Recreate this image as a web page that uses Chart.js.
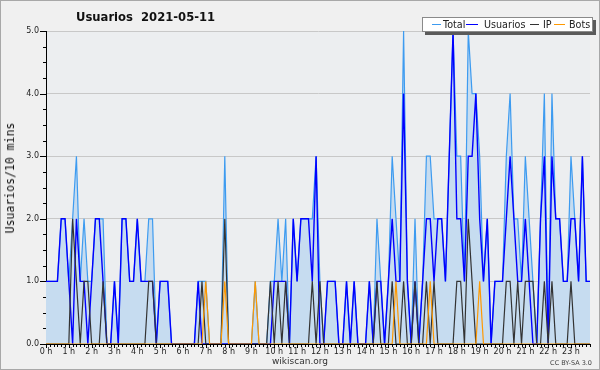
<!DOCTYPE html>
<html>
<head>
<meta charset="utf-8">
<script src="https://cdn.jsdelivr.net/npm/chart.js@4"></script>
<style>
  body { margin: 0; background: #fff; }
  #wrap { position: relative; width: 600px; height: 370px; background: #f0f0f0; font-family: "DejaVu Sans", sans-serif; overflow: hidden; }
  #chart { position: absolute; left: 0; top: 0; }
  #frame { position: absolute; left: 0; top: 0; width: 598px; height: 368px; border: 1px solid #a8a8a8; pointer-events: none; }
  #title { position: absolute; left: 76px; top: 10px; font-weight: bold; font-size: 11.6px; color: #111; white-space: pre; }
  #ytitle { position: absolute; left: 10px; top: 178px; transform: translate(-50%, -50%) rotate(-90deg); font-family: "DejaVu Sans Mono", monospace; font-size: 11.5px; color: #111; white-space: nowrap; }
  #legend { position: absolute; left: 422px; top: 17px; width: 169px; height: 13px; background: #fff; border: 1px solid #8a8a8a; box-shadow: 3px 3px 0 #5a5a5a; }
  .li { position: absolute; top: 0; font-size: 9.6px; line-height: 13px; color: #222; white-space: nowrap; }
  .ln { position: absolute; top: 6px; height: 1px; }
  #foot { position: absolute; left: 0; width: 600px; top: 356px; text-align: center; font-size: 9px; color: #333; }
  #lic { position: absolute; right: 8px; top: 359px; font-size: 6.5px; color: #444; }
</style>
</head>
<body>
<div id="wrap">
  <canvas id="chart" width="600" height="370"></canvas>
  <div id="title">Usuarios  2021-05-11</div>
  <div id="ytitle">Usuarios/10 mins</div>
  <div id="legend">
    <div class="ln" style="left:9px;width:9px;background:#3d9bf0"></div>
    <div class="li" style="left:20px">Total</div>
    <div class="ln" style="left:43px;width:12px;background:#0000ff"></div>
    <div class="li" style="left:61px">Usuarios</div>
    <div class="ln" style="left:107px;width:9px;background:#333"></div>
    <div class="li" style="left:120px">IP</div>
    <div class="ln" style="left:131px;width:11px;background:#ff9900"></div>
    <div class="li" style="left:146px">Bots</div>
  </div>
  <div id="foot">wikiscan.org</div>
  <div id="lic">CC BY-SA 3.0</div>
  <div id="frame"></div>
</div>
<script>
const hourLabels = ["0 h", "1 h", "2 h", "3 h", "4 h", "5 h", "6 h", "7 h", "8 h", "9 h", "10 h", "11 h",
  "12 h", "13 h", "14 h", "15 h", "16 h", "17 h", "18 h", "19 h", "20 h", "21 h", "22 h", "23 h"];

// one value every 10 minutes, 12 per row (2 hours)
const total = [
  1, 1, 1, 1, 2, 2, 1, 2, 3, 1, 2, 1,
  1, 2, 2, 2, 0, 0, 1, 0, 2, 2, 1, 1,
  2, 1, 1, 2, 2, 0, 1, 1, 1, 0, 0, 0,
  0, 0, 0, 0, 1, 1, 1, 0, 0, 0, 0, 3,
  0, 0, 0, 0, 0, 0, 0, 1, 0, 0, 0, 1,
  1, 2, 1, 2, 0, 2, 1, 2, 2, 2, 2, 3,
  1, 0, 1, 1, 1, 0, 0, 1, 0, 1, 0, 0,
  0, 1, 0, 2, 1, 0, 1, 3, 2, 1, 5, 1,
  0, 2, 0, 1, 3, 3, 2, 2, 2, 1, 3, 5,
  3, 3, 1, 5, 4, 4, 3, 1, 2, 0, 1, 1,
  1, 3, 4, 2, 2, 1, 3, 2, 1, 0, 2, 4,
  0, 4, 2, 2, 1, 1, 3, 2, 1, 3, 1, 1
];
const usuarios = [
  1, 1, 1, 1, 2, 2, 1, 0, 2, 1, 1, 0,
  1, 2, 2, 1, 0, 0, 1, 0, 2, 2, 1, 1,
  2, 1, 1, 1, 1, 0, 1, 1, 1, 0, 0, 0,
  0, 0, 0, 0, 1, 0, 0, 0, 0, 0, 0, 0,
  0, 0, 0, 0, 0, 0, 0, 0, 0, 0, 0, 0,
  1, 1, 1, 1, 0, 2, 1, 2, 2, 2, 1, 3,
  0, 0, 1, 1, 1, 0, 0, 1, 0, 1, 0, 0,
  0, 1, 0, 1, 1, 0, 1, 2, 1, 1, 4, 1,
  0, 1, 0, 1, 2, 2, 1, 2, 2, 1, 3, 5,
  2, 2, 1, 3, 3, 4, 2, 1, 2, 0, 1, 1,
  1, 2, 3, 2, 1, 1, 2, 1, 0, 0, 2, 3,
  0, 3, 2, 2, 1, 1, 2, 2, 1, 3, 1, 1
];
const ip = [
  0, 0, 0, 0, 0, 0, 0, 2, 1, 0, 1, 1,
  0, 0, 0, 1, 0, 0, 0, 0, 0, 0, 0, 0,
  0, 0, 0, 1, 1, 0, 0, 0, 0, 0, 0, 0,
  0, 0, 0, 0, 0, 1, 0, 0, 0, 0, 0, 2,
  0, 0, 0, 0, 0, 0, 0, 0, 0, 0, 0, 1,
  0, 1, 0, 1, 0, 0, 0, 0, 0, 0, 1, 0,
  1, 0, 0, 0, 0, 0, 0, 0, 0, 0, 0, 0,
  0, 0, 0, 1, 0, 0, 0, 1, 0, 0, 1, 0,
  0, 1, 0, 0, 1, 0, 1, 0, 0, 0, 0, 0,
  1, 1, 0, 2, 1, 0, 0, 0, 0, 0, 0, 0,
  0, 1, 1, 0, 1, 0, 1, 1, 1, 0, 0, 1,
  0, 1, 0, 0, 0, 0, 1, 0, 0, 0, 0, 0
];
const bots = [
  0, 0, 0, 0, 0, 0, 0, 0, 0, 0, 0, 0,
  0, 0, 0, 0, 0, 0, 0, 0, 0, 0, 0, 0,
  0, 0, 0, 0, 0, 0, 0, 0, 0, 0, 0, 0,
  0, 0, 0, 0, 0, 0, 1, 0, 0, 0, 0, 1,
  0, 0, 0, 0, 0, 0, 0, 1, 0, 0, 0, 0,
  0, 0, 0, 0, 0, 0, 0, 0, 0, 0, 0, 0,
  0, 0, 0, 0, 0, 0, 0, 0, 0, 0, 0, 0,
  0, 0, 0, 0, 0, 0, 0, 0, 1, 0, 0, 0,
  0, 0, 0, 0, 0, 1, 0, 0, 0, 0, 0, 0,
  0, 0, 0, 0, 0, 0, 1, 0, 0, 0, 0, 0,
  0, 0, 0, 0, 0, 0, 0, 0, 0, 0, 0, 0,
  0, 0, 0, 0, 0, 0, 0, 0, 0, 0, 0, 0
];

const labels = total.map((_, i) => (i % 6 === 0 ? hourLabels[i / 6] : ""));

// fondo del área y marcas de los ejes
const plotDecor = {
  id: "plotDecor",
  beforeDraw(chart) {
    const { ctx, chartArea: a } = chart;
    ctx.save();
    ctx.fillStyle = "#eceef0";
    ctx.fillRect(a.left, a.top, a.right - a.left, a.bottom - a.top);
    ctx.restore();
  },
  afterDraw(chart) {
    const { ctx, chartArea: a, scales } = chart;
    ctx.save();
    ctx.strokeStyle = "#000";
    ctx.lineWidth = 1;
    ctx.beginPath();
    for (let v = 0; v <= 5; v += 0.25) {
      const py = Math.round(scales.y.getPixelForValue(v)) + 0.5;
      const len = Number.isInteger(v) ? 6 : 3;
      ctx.moveTo(a.left - len, py);
      ctx.lineTo(a.left, py);
    }
    for (let i = 0; i < labels.length; i++) {
      const px = Math.round(scales.x.getPixelForValue(i)) + 0.5;
      const len = i % 6 === 0 ? 4 : 3;
      ctx.moveTo(px, a.bottom);
      ctx.lineTo(px, a.bottom + len);
    }
    ctx.stroke();
    ctx.restore();
  },
};

const ctx = document.getElementById("chart").getContext("2d");
new Chart(ctx, {
  type: "line",
  data: {
    labels: labels,
    datasets: [
      { label: "Total", data: total, borderColor: "#3d9bf0", backgroundColor: "#c6dcf0", fill: "origin", borderWidth: 1.2, order: 4 },
      { label: "Usuarios", data: usuarios, borderColor: "#0000ff", borderWidth: 1.4, fill: false, order: 3 },
      { label: "IP", data: ip, borderColor: "#333333", borderWidth: 1.2, fill: false, order: 2 },
      { label: "Bots", data: bots, borderColor: "#ff9900", borderWidth: 1.2, fill: false, order: 1 },
    ],
  },
  options: {
    responsive: false,
    animation: false,
    devicePixelRatio: 1,
    layout: { padding: { top: 31, right: 10, bottom: 0, left: 0 } },
    elements: { point: { radius: 0 }, line: { tension: 0 } },
    plugins: { legend: { display: false }, tooltip: { enabled: false } },
    scales: {
      x: {
        type: "category",
        afterFit: (s) => { s.height = 26; },
        grid: { display: false, drawTicks: false },
        border: { color: "#000", width: 1 },
        ticks: {
          autoSkip: false,
          maxRotation: 0,
          minRotation: 0,
          padding: 3,
          color: "#222",
          font: { family: "DejaVu Sans", size: 8 },
        },
      },
      y: {
        min: 0,
        max: 5,
        afterFit: (s) => { s.width = 46; },
        grid: {
          drawTicks: false,
          color: (c) => (Number.isInteger(c.tick.value) && c.tick.value > 0 ? "#c8c8c8" : "rgba(0,0,0,0)"),
        },
        border: { color: "#000", width: 1 },
        ticks: {
          stepSize: 0.25,
          padding: 7,
          color: "#222",
          font: { family: "DejaVu Sans", size: 8 },
          callback: (v) => (Number.isInteger(v) ? v.toFixed(1) : ""),
        },
      },
    },
  },
  plugins: [plotDecor],
});
</script>
</body>
</html>
